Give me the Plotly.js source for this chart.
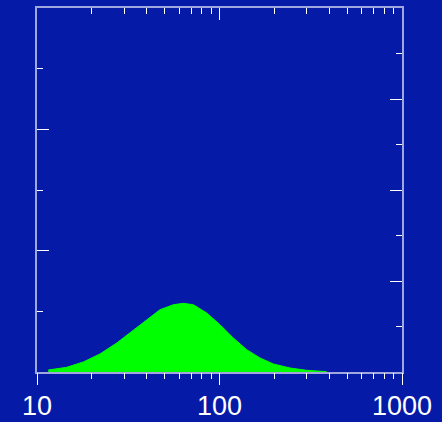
<!DOCTYPE html>
<html>
<head>
<meta charset="utf-8">
<script src="https://cdn.plot.ly/plotly-3.0.1.min.js"></script>
<style>html,body{margin:0;padding:0;background:#061aa8;}#chart{width:442px;height:422px;}</style>
</head>
<body>
<div id="chart"></div>
<script>
// particle size (log scale) and distribution values
const sizes = [11.53, 14.54, 17.94, 22.14, 27.34, 33.71, 39.92, 47.21, 55.84, 63.33, 71.84, 85.1, 100.6, 119.0, 140.9, 166.7, 197.2, 243.4, 300.5, 386.7];
const distribution = [0.033, 0.077, 0.165, 0.297, 0.478, 0.687, 0.862, 1.027, 1.109, 1.132, 1.109, 0.972, 0.780, 0.560, 0.368, 0.231, 0.132, 0.066, 0.028, 0.005];
const xTickVals = [10, 100, 1000];
const xTickText = ['10', '100', '1000'];

const BG = '#061aa8';
const LINE = 'rgba(255,255,255,0.62)';
const TICK = '#ffffff';

const traces = [
  {x: sizes, y: distribution, type: 'scatter', mode: 'lines', fill: 'tozeroy',
   fillcolor: '#00ff00', line: {color: '#00ff00', width: 1},
   xaxis: 'x', yaxis: 'y', hoverinfo: 'skip', showlegend: false},
  {x: [], y: [], type: 'scatter', mode: 'lines', xaxis: 'x2', yaxis: 'y2', showlegend: false},
  {x: [], y: [], type: 'scatter', mode: 'lines', xaxis: 'x3', yaxis: 'y', showlegend: false}
];

const layout = {
  width: 442, height: 422,
  margin: {l: 37, r: 40, t: 8, b: 50, pad: 0},
  paper_bgcolor: BG, plot_bgcolor: BG,
  showlegend: false,
  font: {family: 'Liberation Sans, Arial, sans-serif', color: '#ffffff', size: 27},
  // bottom axis: carries the labels
  xaxis: {type: 'log', range: [1, 3], tickvals: xTickVals, ticktext: xTickText,
    ticks: 'outside', ticklen: 9, tickwidth: 1, tickcolor: 'rgba(0,0,0,0)',
    showline: true, linecolor: LINE, linewidth: 2, showgrid: false, zeroline: false,
    tickfont: {size: 27, color: '#ffffff'}},
  // bottom axis: visible ticks
  xaxis3: {type: 'log', range: [1, 3], overlaying: 'x', side: 'bottom', dtick: 1,
    ticks: 'outside', ticklen: 12, tickwidth: 1, tickcolor: TICK, showticklabels: false,
    showline: false, showgrid: false, zeroline: false,
    minor: {ticks: 'outside', ticklen: 6, tickwidth: 1, tickcolor: TICK, dtick: 'D1', showgrid: false}},
  xaxis2: {type: 'log', range: [1, 3], overlaying: 'x', side: 'top', dtick: 1,
    ticks: 'inside', ticklen: 12, tickwidth: 1, tickcolor: TICK, showticklabels: false,
    showline: true, linecolor: LINE, linewidth: 2, showgrid: false, zeroline: false,
    minor: {ticks: 'inside', ticklen: 6, tickwidth: 1, tickcolor: TICK, dtick: 'D1', showgrid: false}},
  yaxis: {range: [0, 6], dtick: 2, ticks: 'inside', ticklen: 12, tickwidth: 1, tickcolor: TICK,
    showticklabels: false, showline: true, linecolor: LINE, linewidth: 2, showgrid: false, zeroline: false,
    minor: {ticks: 'inside', ticklen: 6, tickwidth: 1, tickcolor: TICK, dtick: 1, showgrid: false}},
  yaxis2: {range: [0, 8], dtick: 2, overlaying: 'y', side: 'right', ticks: 'inside', ticklen: 12, tickwidth: 1,
    tickcolor: TICK, showticklabels: false, showline: true, linecolor: LINE, linewidth: 2,
    showgrid: false, zeroline: false,
    minor: {ticks: 'inside', ticklen: 6, tickwidth: 1, tickcolor: TICK, dtick: 1, showgrid: false}}
};

Plotly.newPlot('chart', traces, layout, {staticPlot: true, displayModeBar: false});
</script>
</body>
</html>
